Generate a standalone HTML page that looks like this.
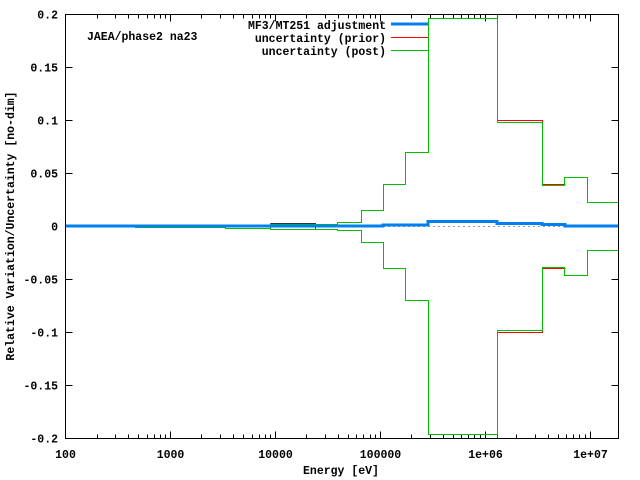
<!DOCTYPE html>
<html><head><meta charset="utf-8"><style>
html,body{margin:0;padding:0;background:#fff;}
svg{display:block;}
text{font-family:"Liberation Mono",monospace;font-size:11.5px;font-weight:bold;fill:#000;}
polyline,line,rect{shape-rendering:crispEdges;}
</style></head><body>
<svg id="s" width="640" height="480" xmlns="http://www.w3.org/2000/svg">
<rect x="0" y="0" width="640" height="480" fill="#fff"/>
<g id="ticks" stroke="#000" stroke-width="1"></g>
<line x1="383" y1="226.5" x2="565" y2="226.5" stroke="#999" stroke-width="1" stroke-dasharray="2,3"/>
<polyline fill="none" stroke="#f00" stroke-width="1" points="428.5,14.5 497.5,14.5 497.5,120.5 542.5,120.5 542.5,184.5 565.5,184.5"/>
<polyline fill="none" stroke="#f00" stroke-width="1" points="428.5,438.5 497.5,438.5 497.5,332.5 542.5,332.5 542.5,268.5 565.5,268.5"/>
<polyline fill="none" stroke="#333" stroke-width="1" points="270.5,223.5 315.5,223.5 315.5,229.5 270.5,229.5 270.5,223.5"/>
<polyline fill="none" stroke="#00c000" stroke-width="1" points="65,226.5 135.5,226.5 135.5,225.5 225.5,225.5 270.5,225.5 270.5,224.5 337.5,224.5 337.5,222.5 361.5,222.5 361.5,210.5 383.5,210.5 383.5,184.5 405.5,184.5 405.5,152.5 428.5,152.5 428.5,18.5 497.5,18.5 497.5,122.5 542.5,122.5 542.5,185.5 564.5,185.5 564.5,177.5 587.5,177.5 587.5,202.5 619,202.5"/>
<polyline fill="none" stroke="#00c000" stroke-width="1" points="65,226.5 135.5,226.5 135.5,227.5 225.5,227.5 225.5,228.5 270.5,228.5 270.5,229.5 337.5,229.5 337.5,230.5 361.5,230.5 361.5,242.5 383.5,242.5 383.5,268.5 405.5,268.5 405.5,300.5 428.5,300.5 428.5,434.5 497.5,434.5 497.5,330.5 542.5,330.5 542.5,267.5 564.5,267.5 564.5,275.5 587.5,275.5 587.5,250.5 619,250.5"/>
<polyline fill="none" stroke="#0080f0" stroke-width="3" points="65,226 383,226 383,225 428,225 428,221.5 497,221.5 497,223.7 542,223.7 542,224.7 565,224.7 565,226 619,226"/>
<rect x="65.5" y="14.5" width="553" height="424" fill="none" stroke="#000" stroke-width="1"/>
<g id="lbl"></g>
<text x="87" y="40">JAEA/phase2 na23</text>
<text x="386" y="29" text-anchor="end">MF3/MT251 adjustment</text>
<text x="386" y="42" text-anchor="end">uncertainty (prior)</text>
<text x="386" y="55" text-anchor="end">uncertainty (post)</text>
<line x1="391" y1="24" x2="428" y2="24" stroke="#0080f0" stroke-width="3"/>
<line x1="391" y1="37.5" x2="428" y2="37.5" stroke="#f00" stroke-width="1"/>
<line x1="391" y1="50.5" x2="428" y2="50.5" stroke="#00c000" stroke-width="1"/>
<text x="341" y="474" text-anchor="middle">Energy [eV]</text>
<text transform="translate(14,226) rotate(-90)" text-anchor="middle">Relative Variation/Uncertainty [no-dim]</text>
</svg>
<script>
var t=document.getElementById('ticks'),l=document.getElementById('lbl'),NS="http://www.w3.org/2000/svg";
function ln(a,b,c,d){var e=document.createElementNS(NS,'line');e.setAttribute('x1',a);e.setAttribute('y1',b);e.setAttribute('x2',c);e.setAttribute('y2',d);t.appendChild(e);}
function tx(x,y,s,anc){var e=document.createElementNS(NS,'text');e.setAttribute('x',x);e.setAttribute('y',y);e.setAttribute('text-anchor',anc);e.textContent=s;l.appendChild(e);}
var L=65.5,R=618.5,T=14.5,B=438.5,D=104.9;
function X(E){return Math.round(65+D*Math.log10(E/100))+0.5;}
var labs=["100","1000","10000","100000","1e+06","1e+07"];
for(var k=0;k<6;k++){var x=X(100*Math.pow(10,k));ln(x,B,x,B-7);ln(x,T,x,T+7);tx(x,458,labs[k],'middle');
 for(var m=2;m<10;m++){var xm=X(m*100*Math.pow(10,k));if(xm<R){ln(xm,B,xm,B-4);ln(xm,T,xm,T+4);}}}
var yl=["0.2","0.15","0.1","0.05","0","-0.05","-0.1","-0.15","-0.2"];
for(var i=0;i<9;i++){var y=14.5+i*53;ln(L,y,L+7,y);ln(R,y,R-7,y);tx(58,y+4,yl[i],'end');}
</script>
</body></html>
